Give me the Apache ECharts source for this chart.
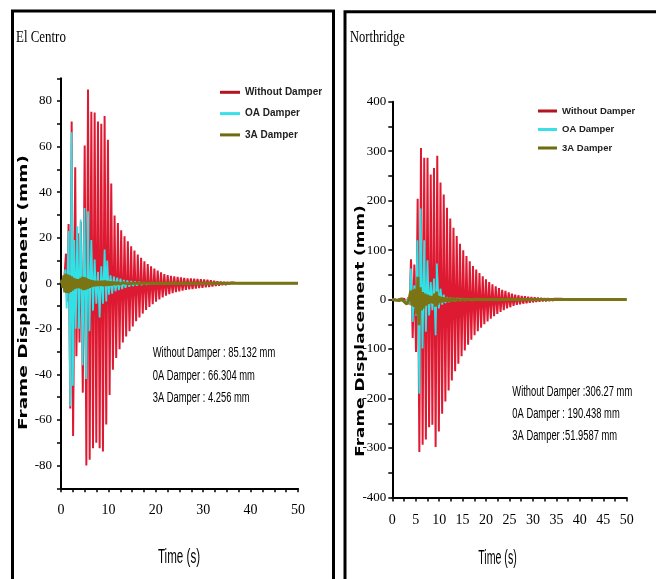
<!DOCTYPE html>
<html><head><meta charset="utf-8">
<script src="https://cdn.jsdelivr.net/npm/echarts@6/dist/echarts.min.js"></script>
<style>html,body{margin:0;padding:0;background:#fff}#c{width:656px;height:579px}</style>
</head><body><div id="c"></div>
<script>
// ---------- names / labels ----------
const seriesNames = ['Without Damper', 'OA Damper', '3A Damper'];
const panelTitles = ['El Centro', 'Northridge'];
const yAxisTitle = 'Frame Displacement (mm)';
const xAxisTitle = 'Time (s)';
const ecNotes = ['Without Damper : 85.132 mm', '0A Damper : 66.304 mm', '3A Damper : 4.256 mm'];
const nrNotes = ['Without Damper :306.27 mm', '0A Damper : 190.438 mm', '3A Damper :51.9587 mm'];
const ecXTickLabels = [0, 10, 20, 30, 40, 50];
const ecYTickLabels = [-80, -60, -40, -20, 0, 20, 40, 60, 80];
const nrXTickLabels = [0, 5, 10, 15, 20, 25, 30, 35, 40, 45, 50];
const nrYTickLabels = [-400, -300, -200, -100, 0, 100, 200, 300, 400];

// ---------- El Centro data [time s, displacement mm] ----------
const ecWithout = [[0,0],[0.3,1.5],[0.55,-2],[0.8,5],[1.05,13],[1.3,-8],[1.6,26],[1.96,-55],[2.25,71],[2.55,-67],[3.0,51],[3.25,-32],[3.6,22],[3.9,-26],[4.2,27],[4.6,-48],[5.0,60.5],[5.35,-80],[5.7,85.1],[6.05,-77.5],[6.4,75.3],[6.75,-72.4],[7.1,75],[7.45,-70],[7.8,71],[8.15,-72.4],[8.5,70],[8.85,-73.8],[9.2,73.4],[9.55,-62],[9.9,63],[10.25,-49],[10.6,43.8],[10.95,-38],[11.3,29.8],[11.65,-32.8],[12.0,26.5],[12.35,-29],[12.7,23.3],[13.05,-26],[13.4,20.7],[13.75,-23.3],[14.1,18.5],[14.45,-21],[14.8,16.3],[15.15,-19],[15.5,14.4],[15.85,-16.7],[16.2,12.6],[16.55,-15],[16.9,11.2],[17.25,-13.3],[17.6,9.7],[17.95,-11.7],[18.3,8.5],[18.65,-10.4],[19.0,7.5],[19.35,-9.2],[19.7,6.5],[20.05,-8.1],[20.4,5.6],[20.75,-7.1],[21.1,4.8],[21.45,-6.2],[21.8,4.1],[22.15,-5.4],[22.5,3.6],[22.85,-4.8],[23.2,3.3],[23.55,-4.3],[23.9,3.0],[24.25,-3.9],[24.6,2.8],[24.95,-3.5],[25.3,2.6],[25.65,-3.2],[26.0,2.4],[26.35,-2.9],[26.7,2.2],[27.05,-2.7],[27.4,2.1],[27.75,-2.5],[28.1,2.0],[28.45,-2.3],[28.8,1.9],[29.15,-2.1],[29.5,1.8],[29.85,-2.0],[30.2,1.7],[30.55,-1.8],[30.9,1.6],[31.25,-1.6],[31.6,1.3],[31.95,-1.4],[32.3,1.1],[32.65,-1.2],[33.0,0.9],[33.35,-1.0],[33.7,0.7],[34.05,-0.8],[34.4,0.6],[34.75,-0.7],[35.1,0.5],[35.45,-0.5],[35.8,0.4],[36.15,-0.4],[36.5,0.3],[36.85,-0.3],[37.5,0],[50,0]];
const ec0A = [[0,0],[0.3,1],[0.6,-3],[0.9,6],[1.2,-11],[1.6,23],[1.96,-54],[2.25,66.3],[2.5,-45],[2.8,19],[3.1,-20],[3.45,25],[3.8,-20],[4.15,28],[4.55,-36],[4.95,33],[5.3,-42],[5.7,31.6],[6.0,-21],[6.4,19],[6.75,-12],[7.1,10.4],[7.45,-9],[7.8,5],[8.15,-15],[8.5,7.5],[8.85,-9],[9.2,14.8],[9.55,-8],[9.75,10],[10.1,-5],[10.45,3.5],[10.8,-4.5],[11.15,3],[11.5,-3.5],[11.85,2.5],[12.2,-3],[12.55,2],[12.9,-2.5],[13.25,1.5],[13.6,-2],[14.0,1.2],[14.4,-1.5],[14.8,1],[15.2,-1.2],[15.6,0.8],[16.0,-1],[16.5,0.6],[17.0,-0.7],[17.5,0.4],[18.0,-0.5],[19.0,0],[50,0]];
const ec3A = [[0,0],[0.2,1.5],[0.4,-2],[0.6,3.5],[0.8,-4],[1.0,4.3],[1.2,-4.2],[1.4,3.8],[1.6,-4.3],[1.8,3.5],[2.0,-3.8],[2.2,3],[2.4,-3.2],[2.6,2.4],[2.8,-2.6],[3.0,2],[3.2,-2.2],[3.4,1.8],[3.6,-2],[3.8,1.8],[4.0,-2.2],[4.2,2.4],[4.4,-2.6],[4.6,2.8],[4.8,-3],[5.0,2.6],[5.2,-2.8],[5.4,2.2],[5.6,-2.4],[5.8,1.8],[6.0,-2],[6.2,1.5],[6.4,-1.6],[6.6,1.3],[6.8,-1.4],[7.0,1.1],[7.2,-1.2],[7.5,1],[7.8,-1.1],[8.1,0.9],[8.4,-1],[8.7,1.1],[9.0,-1.2],[9.3,1.2],[9.6,-1.1],[9.9,0.9],[10.2,-0.9],[10.5,0.7],[10.8,-0.7],[11.2,0.5],[11.6,-0.5],[12.0,0.4],[12.5,-0.4],[13.0,0.3],[14.0,-0.2],[15.0,0],[50,0]];

// ---------- Northridge data [time s, displacement mm] ----------
const nrWithout = [[0,0],[0.5,1],[1.0,-1],[1.5,1.5],[2.0,-2],[2.5,2],[3.0,-6],[3.4,4],[3.7,-10],[3.99,81.6],[4.35,-77.6],[4.70,70.8],[5.06,-106],[5.41,204],[5.77,-308],[6.12,306.3],[6.47,-293.5],[6.81,286.7],[7.16,-282.7],[7.51,286.7],[7.85,-257.8],[8.20,253],[8.55,-253],[8.89,266],[9.24,-298],[9.59,290.7],[9.93,-266.5],[10.28,236.8],[10.63,-230.8],[10.97,212.5],[11.32,-205.8],[11.66,185.4],[12.01,-183.5],[12.36,164],[12.70,-163.3],[13.05,145],[13.40,-145],[13.74,128.7],[14.09,-129.6],[14.44,113],[14.78,-114.7],[15.13,99.8],[15.47,-102.6],[15.82,88],[16.17,-91],[16.52,77.5],[16.86,-81],[17.21,68],[17.55,-72],[17.90,60.7],[18.24,-64],[18.59,53.9],[18.94,-56.7],[19.29,47],[19.63,-50],[19.98,41],[20.32,-44],[20.67,35.7],[21.01,-38.5],[21.36,31],[21.71,-33.7],[22.06,27],[22.40,-29],[22.75,23.5],[23.09,-25],[23.44,20],[23.78,-21.6],[24.13,17.5],[24.48,-18],[24.83,14.8],[25.17,-15.5],[25.52,12],[25.86,-12.8],[26.21,10],[26.55,-10.8],[26.90,8.7],[27.25,-9.4],[27.60,7.6],[27.94,-8.2],[28.29,6.6],[28.63,-7.2],[28.98,5.8],[29.32,-6.3],[29.67,5.0],[30.02,-5.5],[30.37,4.4],[30.71,-4.8],[31.06,3.8],[31.40,-4.2],[31.75,3.3],[32.09,-3.6],[32.44,2.9],[32.79,-3.2],[33.14,2.5],[33.48,-2.8],[33.83,2.2],[34.17,-2.4],[34.52,1.9],[34.86,-2.1],[35.21,1.7],[35.56,-1.8],[35.91,1.5],[36.25,-1.6],[36.60,1.3],[36.94,-1.4],[37.29,1.1],[37.63,-1.2],[37.98,1.0],[38.33,-1.0],[38.68,0.85],[39.02,-0.9],[39.37,0.75],[39.71,-0.8],[40.06,0.65],[40.40,-0.7],[40.75,0.55],[41.10,-0.6],[41.45,0.5],[41.79,-0.5],[42.14,0.4],[42.50,-0.4],[43.2,0],[50,0]];
const nr0A = [[0,0],[1,0.5],[2,-1],[3,-4],[3.5,3],[3.7,-8],[3.95,62.7],[4.35,-45],[4.7,29],[5.06,-32],[5.35,120],[5.77,-190.4],[6.05,184],[6.45,-99],[6.8,120],[7.16,-65],[7.5,79.6],[7.85,-32],[8.2,35.6],[8.55,-21.6],[8.89,42.5],[9.24,-72],[9.5,72.9],[9.93,-18],[10.28,22],[10.63,-10],[10.97,10],[11.32,-7],[11.66,5],[12.01,-5],[12.36,4],[12.7,-4],[13.05,3],[13.4,-3],[13.74,2],[14.09,-2],[14.44,1.5],[14.78,-1.5],[15.13,1],[15.5,-1],[16,0.5],[17,0],[50,0]];
const nr3A = [[0,0],[0.4,1.5],[0.8,-1.5],[1.2,2],[1.6,-2],[2.0,2.5],[2.4,-3],[2.8,-6],[3.1,-9],[3.4,-4],[3.7,6],[3.95,18],[4.2,-12],[4.45,20],[4.7,-15],[4.95,22],[5.2,-30],[5.45,46],[5.7,-52],[5.95,25],[6.2,-22],[6.45,15],[6.7,-18],[6.95,12],[7.2,-12],[7.45,10],[7.7,-9],[7.95,8],[8.2,-7],[8.45,7],[8.7,-8],[8.95,12],[9.2,-14],[9.45,16],[9.7,-10],[9.95,7],[10.2,-6],[10.5,5],[10.8,-5],[11.1,4],[11.4,-4],[11.7,3.5],[12.0,-3.5],[12.4,3],[12.8,-3],[13.2,2.5],[13.6,-2.5],[14.0,2],[14.5,-2],[15.0,1.5],[15.5,-1.5],[16,1],[17,-1],[18,0.5],[19,-0.5],[20,0],[50,0]];

// ---------- styling ----------
const lineColors = ['#de1a32', '#30e2e6', '#7a7414'];
const legendColors = ['#b3141f', '#3ae0e8', '#6e6b10'];
const lineWidths = [2, 1.8, 3];

function xAx(gi, interval, labels, margin) {
  return {
    type: 'value', gridIndex: gi, min: 0, max: 50, interval: interval,
    axisLine: { onZero: false, lineStyle: { color: '#000', width: 2 } },
    axisTick: { length: 4, lineStyle: { color: '#000', width: 1.5 } },
    splitLine: { show: false },
    axisLabel: { margin: margin, color: '#000', fontFamily: 'Liberation Serif', fontSize: 14,
      formatter: v => labels.indexOf(v) >= 0 ? String(v) : '' }
  };
}
function yAx(gi, min, max, interval, labels, margin) {
  return {
    type: 'value', gridIndex: gi, min: min, max: max, interval: interval,
    axisLine: { onZero: false, lineStyle: { color: '#000', width: 2 } },
    axisTick: { length: 4, lineStyle: { color: '#000', width: 1.5 } },
    splitLine: { show: false },
    axisLabel: { margin: margin, color: '#000', fontFamily: 'Liberation Serif', fontSize: 13,
      formatter: v => labels.indexOf(v) >= 0 ? String(v) : '' }
  };
}
function ser(name, data, idx, gi) {
  return { type: 'line', name: name, data: data, xAxisIndex: gi, yAxisIndex: gi,
    showSymbol: false, symbol: 'none', sampling: null, z: 2 + idx,
    lineStyle: { color: lineColors[idx], width: lineWidths[idx] },
    itemStyle: { color: lineColors[idx] } };
}
function txt(x, y, text, font, o) {
  o = o || {};
  const al = o.align || 'left';
  return { type: 'text', x: x, y: y, rotation: o.rotation || 0, scaleX: o.scaleX || 1, scaleY: 1,
    silent: true, z: 100,
    style: { text: text, font: font, fill: o.fill || '#000',
      align: al, textAlign: al, verticalAlign: 'middle', textVerticalAlign: 'middle' } };
}
function legendCfg(left, top, w, fs, lh, gap) {
  return {
    left: left, top: top, orient: 'vertical', padding: 0, itemGap: gap,
    itemWidth: w, itemHeight: 3, icon: 'rect', selectedMode: false,
    textStyle: { fontFamily: 'Liberation Sans', fontWeight: 'bold', fontSize: fs, lineHeight: lh, color: '#222' },
    data: seriesNames.map((n, i) => ({ name: n, itemStyle: { color: legendColors[i] } }))
  };
}

const sans = '"Liberation Sans"';
const graphics = [
  { type: 'rect', shape: { x: 12.5, y: 11, width: 321, height: 640 }, style: { fill: 'none', stroke: '#000', lineWidth: 3 }, silent: true },
  { type: 'rect', shape: { x: 345, y: 11.7, width: 340, height: 640 }, style: { fill: 'none', stroke: '#000', lineWidth: 3 }, silent: true },
  txt(16, 38, panelTitles[0], '17px "Liberation Serif"', { scaleX: 0.76 }),
  txt(350, 38, panelTitles[1], '16px "Liberation Serif"', { scaleX: 0.78 }),
  txt(23.5, 292.5, yAxisTitle, 'bold 13px "DejaVu Sans"', { rotation: Math.PI / 2, scaleX: 1.42, align: 'center' }),
  txt(360.5, 331, yAxisTitle, 'bold 13px "DejaVu Sans"', { rotation: Math.PI / 2, scaleX: 1.3, align: 'center' }),
  txt(179, 557, xAxisTitle, '20px ' + sans, { scaleX: 0.58, align: 'center' }),
  txt(497.5, 558, xAxisTitle, '20px ' + sans, { scaleX: 0.53, align: 'center' }),
  txt(152.7, 353.3, ecNotes[0], '14px ' + sans, { scaleX: 0.67, fill: '#000' }),
  txt(152.7, 376, ecNotes[1], '14px ' + sans, { scaleX: 0.67, fill: '#000' }),
  txt(152.7, 397.7, ecNotes[2], '14px ' + sans, { scaleX: 0.67, fill: '#000' }),
  txt(512.3, 392.3, nrNotes[0], '14px ' + sans, { scaleX: 0.67, fill: '#000' }),
  txt(512.3, 414, nrNotes[1], '14px ' + sans, { scaleX: 0.67, fill: '#000' }),
  txt(512.3, 436, nrNotes[2], '14px ' + sans, { scaleX: 0.67, fill: '#000' })
];

const chart = echarts.init(document.getElementById('c'), null, { renderer: 'canvas' });
chart.setOption({
  animation: false,
  backgroundColor: '#fff',
  grid: [
    { left: 61, top: 78.3, width: 237, height: 410 },
    { left: 392.3, top: 101.7, width: 234.4, height: 395.8 }
  ],
  xAxis: [xAx(0, 2.5, ecXTickLabels, 15), xAx(1, 2.5, nrXTickLabels, 16)],
  yAxis: [yAx(0, -90, 90, 10, ecYTickLabels, 9), yAx(1, -400, 400, 50, nrYTickLabels, 6)],
  legend: [legendCfg(220, 85.3, 20, 10, 14, 7.3), legendCfg(538, 104.5, 19, 9.5, 13, 5.5)],
  series: [
    ser(seriesNames[0], ecWithout, 0, 0), ser(seriesNames[1], ec0A, 1, 0), ser(seriesNames[2], ec3A, 2, 0),
    ser(seriesNames[0], nrWithout, 0, 1), ser(seriesNames[1], nr0A, 1, 1), ser(seriesNames[2], nr3A, 2, 1)
  ],
  graphic: graphics
});
</script>
</body></html>
